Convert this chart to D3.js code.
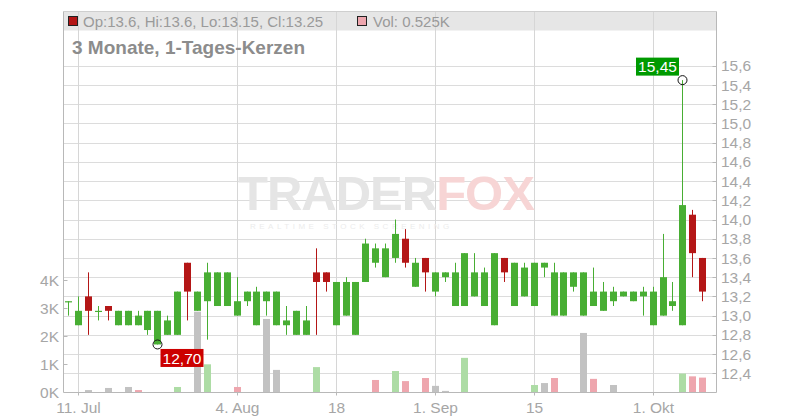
<!DOCTYPE html>
<html><head><meta charset="utf-8">
<script src="https://cdn.jsdelivr.net/npm/d3@7"></script>
<style>
html,body{margin:0;padding:0;background:#fff;}
svg{display:block;font-family:"Liberation Sans",Arial,sans-serif;}
</style></head>
<body>
<svg id="chart" width="800" height="420"></svg>
<script>
// ---- data ----
const dates = ["2025-07-10","2025-07-11","2025-07-14","2025-07-15","2025-07-16","2025-07-17","2025-07-18",
"2025-07-21","2025-07-22","2025-07-23","2025-07-24","2025-07-25","2025-07-28","2025-07-29","2025-07-30","2025-07-31","2025-08-01",
"2025-08-04","2025-08-05","2025-08-06","2025-08-07","2025-08-08","2025-08-11","2025-08-12","2025-08-13","2025-08-14","2025-08-15",
"2025-08-18","2025-08-19","2025-08-20","2025-08-21","2025-08-22","2025-08-25","2025-08-26","2025-08-27","2025-08-28","2025-08-29",
"2025-09-01","2025-09-02","2025-09-03","2025-09-04","2025-09-05","2025-09-08","2025-09-09","2025-09-10","2025-09-11","2025-09-12",
"2025-09-15","2025-09-16","2025-09-17","2025-09-18","2025-09-19","2025-09-22","2025-09-23","2025-09-24","2025-09-25","2025-09-26",
"2025-09-29","2025-09-30","2025-10-01","2025-10-02","2025-10-03","2025-10-06","2025-10-07","2025-10-08"];
const open  = [13.15,12.9,13.2,13.05,13.1,12.9,12.9,12.9,12.85,12.7,12.8,12.8,13.55,13.05,13.15,13.1,13.1,13.0,13.15,12.9,13.15,12.9,
12.9,12.8,12.8,13.45,13.45,12.9,13.0,12.8,13.35,13.55,13.4,13.6,13.8,13.3,13.6,13.25,13.4,13.1,13.1,13.2,13.1,12.9,13.6,13.1,13.2,13.1,
13.5,13.0,13.0,13.3,13.0,13.1,13.05,13.15,13.2,13.15,13.2,12.9,13.0,13.1,12.9,14.05,13.6];
const high  = [13.15,13.2,13.45,13.1,13.1,13.05,13.05,13.05,13.05,13.05,13.0,13.25,13.55,13.25,13.55,13.45,13.45,13.4,13.25,13.3,13.25,13.25,
13.1,13.05,13.1,13.7,13.45,13.35,13.4,13.35,13.8,13.75,13.75,14.0,13.9,13.6,13.6,13.45,13.45,13.55,13.65,13.65,13.5,13.65,13.6,13.55,13.55,13.55,
13.55,13.55,13.45,13.45,13.45,13.5,13.35,13.3,13.25,13.25,13.3,13.3,13.85,13.35,15.45,14.1,13.6];
const low   = [13.0,12.9,12.8,12.95,12.95,12.9,12.9,12.9,12.8,12.7,12.8,12.8,12.95,13.05,12.75,13.1,13.1,13.0,13.1,12.9,13.0,12.9,
12.8,12.8,12.8,12.8,13.25,12.9,13.0,12.8,13.35,13.5,13.4,13.55,13.5,13.3,13.25,13.2,13.35,13.1,13.1,13.2,13.1,12.9,13.35,13.1,13.2,13.1,
13.4,13.0,13.0,13.25,13.0,13.1,13.05,13.1,13.2,13.15,13.0,12.9,13.0,13.05,12.9,13.4,13.15];
const close = [13.15,13.05,13.05,13.05,13.05,13.05,13.05,13.0,13.05,13.05,12.95,13.25,13.25,13.25,13.45,13.45,13.45,13.15,13.25,13.25,13.25,13.25,
12.95,13.05,12.95,13.35,13.35,13.35,13.35,13.35,13.75,13.7,13.7,13.85,13.55,13.55,13.45,13.45,13.45,13.45,13.65,13.45,13.45,13.65,13.45,13.55,13.5,13.55,
13.55,13.45,13.45,13.45,13.45,13.25,13.25,13.25,13.25,13.25,13.25,13.25,13.4,13.15,14.15,13.65,13.25];
const volumeK = [0,0,0.08,0,0.155,0,0.19,0.08,0,0,0,0.19,0,2.88,1.0,0,0,0.19,0,0,2.62,0.8,
0,0,0,0.9,0,0,0,0,0,0.44,0,0.76,0.4,0,0.51,0.23,0.05,0,1.23,0,0,0,0,0,0,0.26,
0.33,0.51,0,0,2.12,0.48,0,0.26,0,0,0,0,0,0,0.67,0.57,0.525];
const tickDates  = ["2025-07-11","2025-08-04","2025-08-18","2025-09-01","2025-09-15","2025-10-01"];
const tickLabels = ["11. Jul","4. Aug","18","1. Sep","15","1. Okt"];
const priceTicks = [12.4,12.6,12.8,13.0,13.2,13.4,13.6,13.8,14.0,14.2,14.4,14.6,14.8,15.0,15.2,15.4,15.6];
const volTicks = [0,1,2,3,4];
const title = "3 Monate, 1-Tages-Kerzen";

// ---- layout ----
const L = 63.5, R = 716.5, T = 11.5, B = 392.5;
const svg = d3.select("#chart");
const n = dates.length;
const x = d3.scaleLinear().domain([-0.5, 65.4]).range([L - 0.2, R - 0.5]);
const y = d3.scaleLinear().domain([12.4, 15.6]).range([373.3, 65.7]);
const yv = d3.scaleLinear().domain([0, 4]).range([392.3, 280.3]);
const idx = d => dates.indexOf(d);
const cx = i => Math.round(x(i)) + 0.5;

const GREEN = "#48ae33", RED = "#b41616";
const VGREEN = "#addca5", VRED = "#eea6ae", VGRAY = "#c2c2c2";
const AX = "#a6a6a6";

// legend band
svg.append("rect").attr("x", L).attr("y", T).attr("width", R - L).attr("height", 19).attr("fill", "#e6e6e6");

// horizontal grid
svg.append("g").selectAll("line").data(priceTicks).join("line")
  .attr("x1", L).attr("x2", R)
  .attr("y1", d => Math.round(y(d)) + 0.5).attr("y2", d => Math.round(y(d)) + 0.5)
  .attr("stroke", "#dcdcdc").attr("stroke-width", 1);
// vertical grid
svg.append("g").selectAll("line").data(tickDates).join("line")
  .attr("x1", d => cx(idx(d))).attr("x2", d => cx(idx(d)))
  .attr("y1", T).attr("y2", B)
  .attr("stroke", "#d6d6d6").attr("stroke-width", 1);

// watermark
const wm = svg.append("text").attr("x", 238).attr("y", 210).attr("font-weight", "bold")
  .attr("font-size", 49).attr("letter-spacing", -1);
wm.append("tspan").attr("fill", "#e5e5e5").text("TRADER");
wm.append("tspan").attr("fill", "#f7d5d5").text("FOX");
svg.append("text").attr("x", 250).attr("y", 229).attr("font-size", 8)
  .attr("letter-spacing", 3.5).attr("fill", "#ececec").text("REALTIME STOCK SCREENING");

// volume bars
const volColor = i => {
  if (i === 0) return VGRAY;
  if (close[i] > close[i - 1]) return VGREEN;
  if (close[i] < close[i - 1]) return VRED;
  return VGRAY;
};
svg.append("g").selectAll("rect").data(volumeK.map((v, i) => ({v, i})).filter(d => d.v > 0)).join("rect")
  .attr("x", d => cx(d.i) - 3.5).attr("width", 7)
  .attr("y", d => yv(d.v)).attr("height", d => yv(0) - yv(d.v))
  .attr("fill", d => volColor(d.i));

// candles
const candles = d3.range(n).map(i => ({i, o: open[i], h: high[i], l: low[i], c: close[i]}));
const cg = svg.append("g");
cg.selectAll("line").data(candles).join("line")
  .attr("x1", d => cx(d.i)).attr("x2", d => cx(d.i))
  .attr("y1", d => y(d.h)).attr("y2", d => y(d.l))
  .attr("stroke", d => d.c >= d.o ? GREEN : RED).attr("stroke-width", 1);
cg.selectAll("rect").data(candles).join("rect")
  .attr("x", d => cx(d.i) - 3.5).attr("width", 7)
  .attr("y", d => Math.min(y(d.o), y(d.c)))
  .attr("height", d => Math.max(1.2, Math.abs(y(d.o) - y(d.c))))
  .attr("fill", d => d.c >= d.o ? GREEN : RED);

// frame
svg.append("line").attr("x1", L).attr("x2", R).attr("y1", T).attr("y2", T).attr("stroke", "#cfcfcf");
svg.append("line").attr("x1", L).attr("x2", L).attr("y1", T).attr("y2", B).attr("stroke", "#b8b8b8");
svg.append("line").attr("x1", R).attr("x2", R).attr("y1", T).attr("y2", B).attr("stroke", "#b8b8b8");
svg.append("line").attr("x1", L).attr("x2", R).attr("y1", B).attr("y2", B).attr("stroke", "#b8b8b8");

// right price axis
const ra = svg.append("g");
ra.selectAll("line").data(priceTicks).join("line")
  .attr("x1", R - 4).attr("x2", R)
  .attr("y1", d => Math.round(y(d)) + 0.5).attr("y2", d => Math.round(y(d)) + 0.5).attr("stroke", "#b8b8b8");
ra.selectAll("text").data(priceTicks).join("text")
  .attr("x", R + 4.5).attr("y", d => y(d)).attr("dy", "0.36em")
  .attr("font-size", 15.5).attr("fill", AX)
  .text(d => d3.format(".1f")(d).replace(".", ","));

// left volume axis
const la = svg.append("g");
la.selectAll("line").data(volTicks.filter(d => d > 0)).join("line")
  .attr("x1", L).attr("x2", L + 4)
  .attr("y1", d => Math.round(yv(d)) + 0.5).attr("y2", d => Math.round(yv(d)) + 0.5).attr("stroke", "#b8b8b8");
la.selectAll("text").data(volTicks).join("text")
  .attr("x", 59).attr("y", d => yv(d)).attr("dy", "0.36em").attr("text-anchor", "end")
  .attr("font-size", 15.5).attr("fill", AX)
  .text(d => d + "K");

// bottom axis
const ba = svg.append("g");
ba.selectAll("line").data(tickDates).join("line")
  .attr("x1", d => cx(idx(d))).attr("x2", d => cx(idx(d)))
  .attr("y1", B).attr("y2", B + 3).attr("stroke", "#b8b8b8");
ba.selectAll("text").data(tickDates).join("text")
  .attr("x", d => cx(idx(d))).attr("y", 412.5).attr("text-anchor", "middle")
  .attr("font-size", 15.5).attr("fill", AX)
  .text((d, k) => tickLabels[k]);

// legend
const last = n - 1;
svg.append("rect").attr("x", 68.5).attr("y", 16.5).attr("width", 9).attr("height", 9)
  .attr("fill", RED).attr("stroke", "#222");
svg.append("text").attr("x", 83).attr("y", 27).attr("font-size", 15).attr("fill", "#9a9a9a")
  .text(`Op:${open[last]}, Hi:${high[last]}, Lo:${low[last]}, Cl:${close[last]}`);
svg.append("rect").attr("x", 357.5).attr("y", 16.5).attr("width", 9).attr("height", 9)
  .attr("fill", VRED).attr("stroke", "#222");
svg.append("text").attr("x", 373).attr("y", 27).attr("font-size", 15).attr("fill", "#9a9a9a")
  .text(`Vol: ${volumeK[last]}K`);

// title
svg.append("text").attr("x", 72).attr("y", 54).attr("font-size", 19).attr("font-weight", "bold")
  .attr("fill", "#8c8c8c").text(title);

// min / max markers
const iMin = d3.minIndex(low), iMax = d3.maxIndex(high);
const fmt = v => d3.format(".2f")(v).replace(".", ",");
function marker(i, v, isMax) {
  const px = cx(i), py = y(v);
  svg.append("circle").attr("cx", px).attr("cy", py).attr("r", 4.5)
    .attr("fill", "none").attr("stroke", "#111").attr("stroke-width", 1);
  const w = 43, h = 18;
  const bx = isMax ? px - 3.5 - w : px + 3;
  const by = isMax ? py - 4.5 - h : py + 4.5;
  svg.append("rect").attr("x", bx).attr("y", by).attr("width", w).attr("height", h)
    .attr("fill", isMax ? "#009a00" : "#cc0000");
  svg.append("text").attr("x", bx + w / 2).attr("y", by + h / 2).attr("dy", "0.36em")
    .attr("text-anchor", "middle").attr("font-size", 15.5).attr("fill", "#fff").text(fmt(v));
}
marker(iMin, low[iMin], false);
marker(iMax, high[iMax], true);
</script>
</body></html>
